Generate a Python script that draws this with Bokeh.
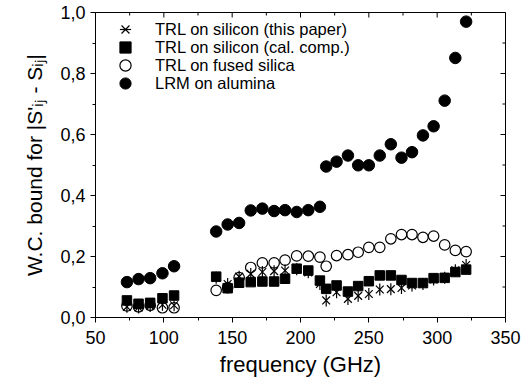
from bokeh.plotting import figure
from bokeh.models import Range1d, FixedTicker, CustomJSTickFormatter, Legend, LegendItem
from bokeh.embed import file_html
from bokeh.resources import INLINE

# frequency points (GHz): three waveguide bands
freq_ghz = [73, 81.5, 90, 99, 107.5,
            138.3, 146.7, 155.1, 163.6, 172.1, 180.7, 188.7, 197.2, 205.7, 214.2,
            218.8, 226.4, 234.7, 242.2, 250, 258, 266.1, 273.9, 281.6, 289.6,
            297.4, 305.5, 313.3, 321.2]

trl_si_this_paper = [0.035, 0.033, 0.038, 0.042, 0.040,
                     0.130, 0.110, 0.134, 0.143, 0.149, 0.152, 0.154, 0.158, 0.148, 0.110,
                     0.056, 0.083, 0.061, 0.071, 0.077, 0.092, 0.093, 0.097, 0.105, 0.110,
                     0.125, 0.130, 0.155, 0.172]

trl_si_cal_comp = [0.056, 0.045, 0.048, 0.063, 0.072,
                   0.134, 0.096, 0.114, 0.116, 0.118, 0.118, 0.127, 0.160, 0.154, 0.121,
                   0.094, 0.105, 0.085, 0.103, 0.119, 0.138, 0.138, 0.123, 0.113, 0.113,
                   0.129, 0.130, 0.149, 0.157]

trl_fused_silica = [0.038, 0.035, 0.040, 0.032, 0.032,
                    0.089, 0.098, 0.131, 0.164, 0.179, 0.179, 0.188, 0.202, 0.201, 0.198,
                    0.168, 0.203, 0.206, 0.214, 0.230, 0.230, 0.258, 0.272, 0.272, 0.263,
                    0.267, 0.238, 0.220, 0.216]

lrm_alumina = [0.116, 0.126, 0.129, 0.145, 0.168,
               0.282, 0.305, 0.310, 0.351, 0.357, 0.349, 0.352, 0.346, 0.352, 0.363,
               0.495, 0.511, 0.531, 0.499, 0.499, 0.531, 0.568, 0.524, 0.542, 0.597,
               0.627, 0.711, 0.851, 0.970]

legend_labels = ["TRL on silicon (this paper)", "TRL on silicon (cal. comp.)",
                 "TRL on fused silica", "LRM on alumina"]
x_ticks = [50, 100, 150, 200, 250, 300, 350]
x_minor = [75, 125, 175, 225, 275, 325]
y_ticks = [0.0, 0.2, 0.4, 0.6, 0.8, 1.0]
y_minor = [0.1, 0.3, 0.5, 0.7, 0.9]
x_lo, x_hi = 50, 350
y_lo, y_hi = 0.0, 1.0

FONT = "Liberation Sans"

p = figure(width=532, height=384, output_backend="svg", toolbar_location=None,
           x_range=Range1d(x_lo, x_hi), y_range=Range1d(y_lo, y_hi),
           min_border_left=95, min_border_right=27, min_border_top=12,
           min_border_bottom=67)
p.outline_line_color = "black"
p.outline_line_width = 1
p.xgrid.visible = False
p.ygrid.visible = False

for ax in p.xaxis:
    ax.ticker = FixedTicker(ticks=x_ticks, minor_ticks=x_minor)
for ax in p.yaxis:
    ax.ticker = FixedTicker(ticks=y_ticks, minor_ticks=y_minor)
    ax.formatter = CustomJSTickFormatter(code="return tick.toFixed(1).replace('.', ',');")

for ax in p.xaxis + p.yaxis:
    ax.major_tick_out = 5
    ax.major_tick_in = 0
    ax.minor_tick_out = 3
    ax.minor_tick_in = 0
    ax.major_label_text_font = FONT
    ax.major_label_text_font_size = "18px"
    ax.major_label_text_color = "black"
    ax.axis_label_text_font = FONT
    ax.axis_label_text_font_style = "normal"
    ax.axis_label_text_color = "black"
    ax.axis_line_color = "black"

p.xaxis.axis_label = "frequency (GHz)"
p.xaxis.axis_label_text_font_size = "22px"
p.xaxis.major_label_standoff = 8
p.xaxis.axis_label_standoff = 5
p.yaxis.axis_label = "W.C. bound for |S'\u1d62\u2c7c - S\u1d62\u2c7c|"
p.yaxis.axis_label_text_font_size = "21px"
p.yaxis.major_label_standoff = 5
p.yaxis.axis_label_standoff = 11

# mirrored inward ticks on top and right frame edges (half of each dash is clipped)
p.scatter(x_ticks, [y_hi] * len(x_ticks), marker="dash", angle=1.5708, size=10,
          line_color="black", line_width=1)
p.scatter(x_minor, [y_hi] * len(x_minor), marker="dash", angle=1.5708, size=6,
          line_color="black", line_width=1)
p.scatter([x_hi] * len(y_ticks), y_ticks, marker="dash", size=10,
          line_color="black", line_width=1)
p.scatter([x_hi] * len(y_minor), y_minor, marker="dash", size=6,
          line_color="black", line_width=1)

r_star_x = p.scatter(freq_ghz, trl_si_this_paper, marker="x", size=11,
                     line_color="black", line_width=1.2)
r_star_v = p.scatter(freq_ghz, trl_si_this_paper, marker="dash", angle=1.5708, size=12,
                     line_color="black", line_width=1.2)
r_sq = p.scatter(freq_ghz, trl_si_cal_comp, marker="square", size=9.5,
                 fill_color="black", line_color="black")
r_open = p.scatter(freq_ghz, trl_fused_silica, marker="circle", size=10.5,
                   fill_color="white", fill_alpha=0, line_color="black", line_width=1.2)
r_alu = p.scatter(freq_ghz, lrm_alumina, marker="circle", size=11.5,
                  fill_color="black", line_color="black")

# one single-item legend per row, so that legend markers stay large while rows stay tight
legend_renderers = [[r_star_x, r_star_v], [r_sq], [r_open], [r_alu]]
row_offsets = [274, 256, 238, 220]
for lab, rends, off in zip(legend_labels, legend_renderers, row_offsets):
    lg = Legend(items=[LegendItem(label=lab, renderers=rends)], location=(15, off))
    lg.border_line_color = None
    lg.background_fill_alpha = 0
    lg.margin = 0
    lg.padding = 0
    lg.glyph_width = 30
    lg.glyph_height = 28
    lg.label_height = 18
    lg.spacing = 0
    lg.label_standoff = 15
    lg.label_text_font = FONT
    lg.label_text_font_size = "16.5px"
    lg.label_text_color = "black"
    p.add_layout(lg)

open("out.html", "w").write(file_html(p, INLINE))
